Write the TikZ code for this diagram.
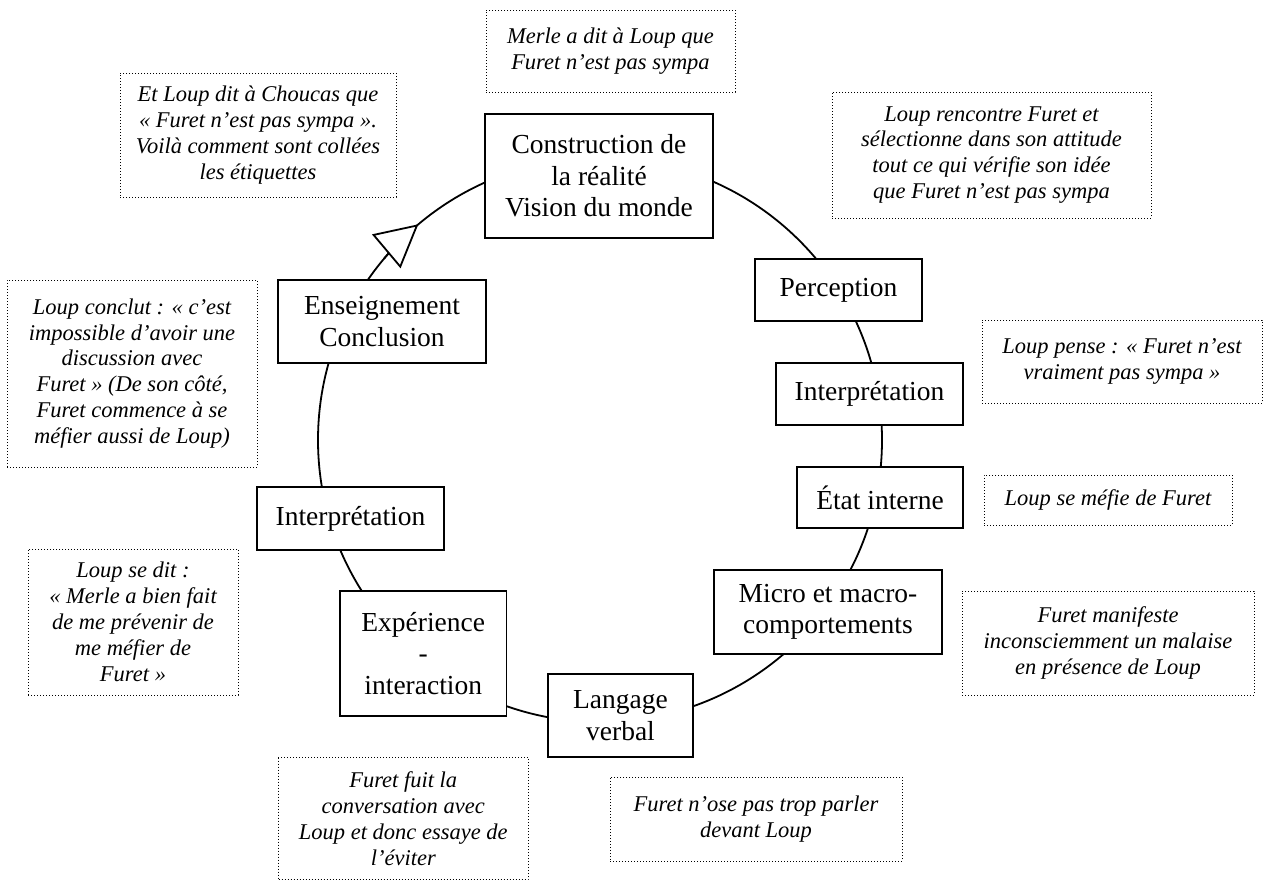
\documentclass[tikz,border=0pt]{standalone}
\usepackage{fontspec}
\setmainfont{Liberation Serif}
\usetikzlibrary{arrows.meta,calc}
\newcommand\stagefont{\fontsize{27.5}{31.6}\selectfont}
\newcommand\notefont{\fontsize{22.5}{25.9}\selectfont\itshape}
\tikzset{
  stage/.style={draw, line width=1.8pt, fill=white, align=center, font=\stagefont, inner sep=0pt},
  note/.style={draw, line width=1pt, dash pattern=on 1pt off 2pt, align=center, font=\notefont, inner sep=0pt},
  ring/.style={line width=1.8pt},
}
\begin{document}
\begin{tikzpicture}[x=1pt,y=-1pt]
\useasboundingbox (0,0) rectangle (1277,881);
\coordinate (c) at (600,440);
\draw[ring] (c) circle[radius=282pt];
\draw[line width=1.8pt, -{Triangle[length=42pt, width=44pt, fill=white, line width=1.8pt]}]
  ($(c)+(140:282pt)$) arc[start angle=140, end angle=130.1, radius=282pt];
% stages
\node[stage, minimum width=228pt, minimum height=124pt] (constr) at (599,176) {Construction de\\la réalité\\Vision du monde};
\node[stage, minimum width=167pt, minimum height=62pt] (percep) at (838.5,290) {Perception};
\node[stage, minimum width=187pt, minimum height=62pt] (interpR) at (869.5,394) {Interprétation};
\node[stage, minimum width=166pt, minimum height=61pt] (etat) at (880,497.5) {État interne};
\node[stage, minimum width=228pt, minimum height=84pt] (micro) at (828,612) {Micro et macro-\\comportements};
\node[stage, minimum width=145pt, minimum height=83pt] (lang) at (620.5,715.5) {Langage\\verbal};
\node[stage, minimum width=166.5pt, minimum height=125pt] (exper) at (423.25,653.5) {Expérience\\-\\interaction};
\node[stage, minimum width=187pt, minimum height=63pt] (interpL) at (350.5,518.5) {Interprétation};
\node[stage, minimum width=208pt, minimum height=83pt] (enseig) at (382,321.5) {Enseignement\\Conclusion};
% notes
\node[note, minimum width=249pt, minimum height=82pt] (merle) at (610.5,51) {Merle a dit à Loup que\\Furet n’est pas sympa};
\node[note, minimum width=276pt, minimum height=124pt] (etloup) at (258,135) {Et Loup dit à Choucas que\\« Furet n’est pas sympa ».\\Voilà comment sont collées\\les étiquettes};
\node[note, minimum width=319pt, minimum height=126pt] (renc) at (991.5,155) {Loup rencontre Furet et\\sélectionne dans son attitude\\tout ce qui vérifie son idée\\que Furet n’est pas sympa};
\node[note, minimum width=250pt, minimum height=187pt] (concl) at (132,373.5) {Loup conclut : « c’est\\impossible d’avoir une\\discussion avec\\Furet » (De son côté,\\Furet commence à se\\méfier aussi  de Loup)};
\node[note, minimum width=280pt, minimum height=83pt] (pense) at (1122,361.5) {Loup pense : « Furet n’est\\vraiment pas sympa »};
\node[note, minimum width=248pt, minimum height=50pt] (mefie) at (1108,500) {Loup se méfie de Furet};
\node[note, minimum width=210pt, minimum height=146pt] (sedit) at (133,622) {Loup se dit :\\« Merle a bien fait\\de me prévenir de\\me méfier de\\Furet »};
\node[note, minimum width=292pt, minimum height=104pt] (manif) at (1108,643) {Furet manifeste\\inconsciemment un malaise\\en présence de Loup};
\node[note, minimum width=249.5pt, minimum height=122pt] (fuit) at (403.25,818.5) {Furet fuit la\\conversation avec\\Loup et donc essaye de\\l’éviter};
\node[note, minimum width=292pt, minimum height=84pt] (ose) at (756,819) {Furet n’ose pas trop parler\\devant Loup};
\end{tikzpicture}
\end{document}
